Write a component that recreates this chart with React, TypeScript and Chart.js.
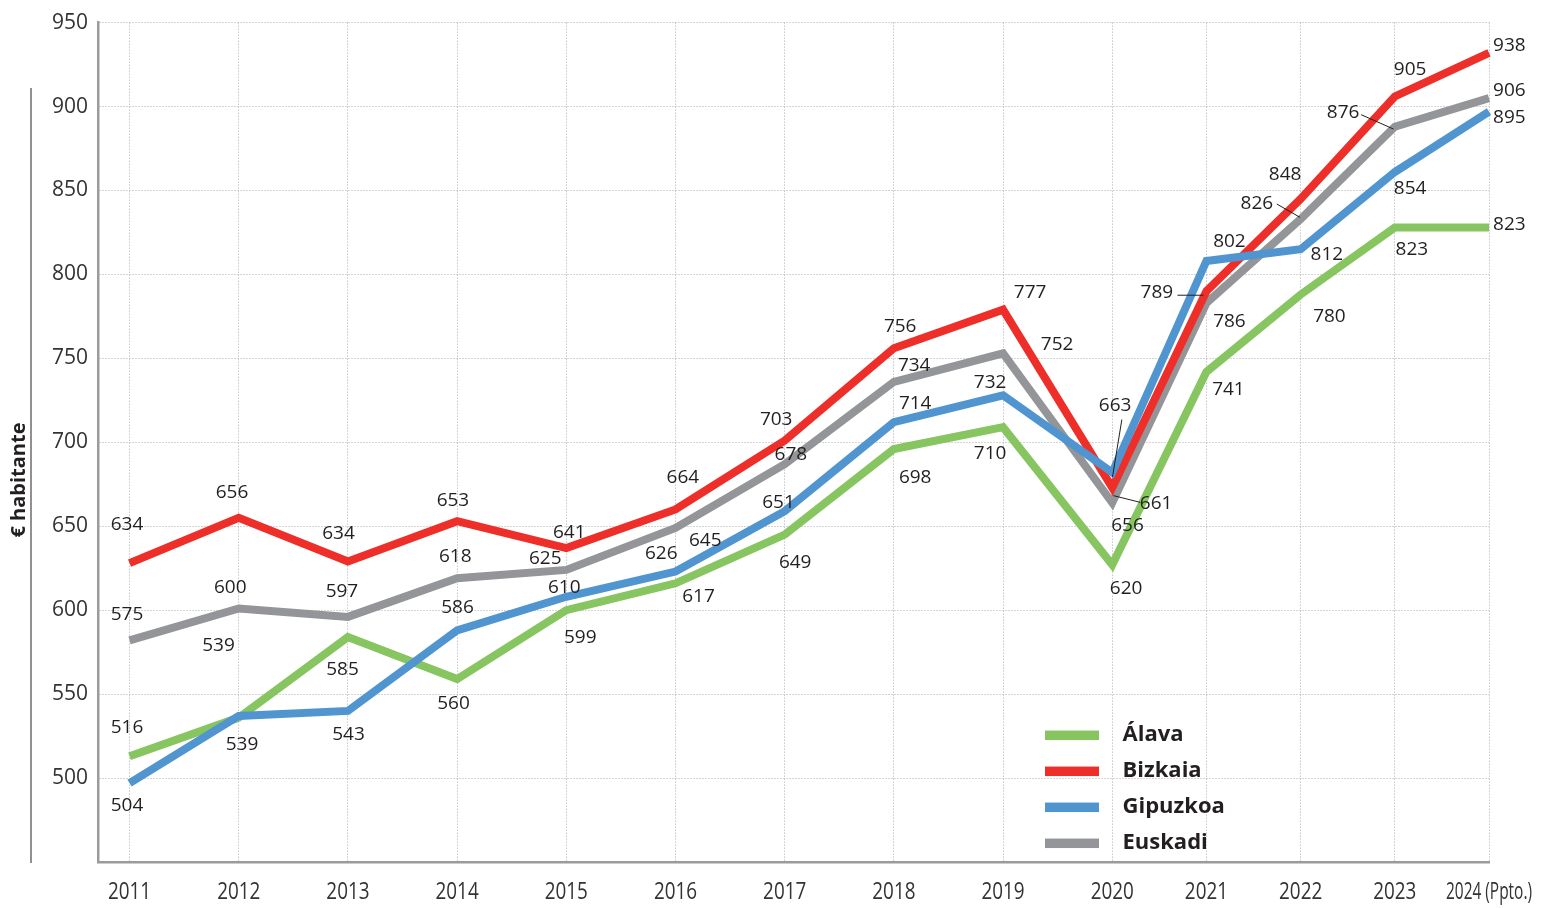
import React, { useEffect, useRef } from 'react';
import { Chart, registerables, CategoryScale } from 'chart.js';

Chart.register(...registerables);

// ---------- data ----------
const years = ['2011', '2012', '2013', '2014', '2015', '2016', '2017', '2018', '2019', '2020', '2021', '2022', '2023', '2024 (Ppto.)'];

// values as drawn by the lines
const alava = [513, 536, 584, 559, 600, 616, 645, 696, 709, 627, 742, 788, 828, 828];
const bizkaia = [628, 655, 629, 653, 637, 660, 701, 756, 779, 673, 790, 845, 906, 932];
const gipuzkoa = [497, 537, 540, 588, 608, 623, 659, 712, 728, 682, 808, 815, 861, 897];
const euskadi = [582, 601, 596, 619, 624, 649, 687, 736, 753, 664, 783, 833, 888, 905];

// printed value labels
const alavaLabels = [516, 539, 585, 560, 599, 617, 649, 698, 710, 620, 741, 780, 823, 823];
const bizkaiaLabels = [634, 656, 634, 653, 641, 664, 703, 756, 777, 661, 789, 848, 905, 938];
const gipuzkoaLabels = [504, 539, 543, 586, 610, 626, 651, 714, 732, 663, 802, 812, 854, 895];
const euskadiLabels = [575, 600, 597, 618, 625, 645, 678, 734, 752, 656, 786, 826, 876, 906];

const seriesNames = ['Álava', 'Bizkaia', 'Gipuzkoa', 'Euskadi'];
const yAxisTitle = '€ habitante';
const yMin = 450;
const yMax = 950;
const yStep = 50;

// ---------- layout / style (not data) ----------
const COLORS = ['#86C560', '#EE2E29', '#5095D0', '#939598'];
const DRAW_ORDER = [2, 1, 0, 3];

// label offsets in px from each point (dx, dy)
const alavaLabelOffsets = [[-2.6, -28.4], [-20.2, -72], [-5.4, 32.6], [-3.6, 24.7], [13.9, 27], [23, 13.3], [10.5, 28.3], [21.3, 29], [-12.9, 26.6], [13.9, 23.3], [22, 18], [28.8, 21.7], [17, 22.6], [20.4, -2.7]];
const bizkaiaLabelOffsets = [[-2.6, -38.3], [-6.8, -25.6], [-9.4, -28.3], [-4.2, -21], [2.9, -15], [7.4, -31.6], [-8.5, -20.7], [6.3, -22], [27.1, -17], [43.9, 15.7], [-49.6, 1.7], [-15.5, -24.3], [15.3, -26.7], [20.4, -7.7]];
const gipuzkoaLabelOffsets = [[-2.6, 22.7], [3.2, 29], [0.6, 23.3], [0.4, -22.4], [-2.1, -9.3], [-14.3, -17.7], [-6.2, -8.3], [21.3, -18.4], [-12.9, -13], [2.9, -67], [23, -19.3], [26.2, 5], [15.3, 16.6], [20.4, 5.6]];
const euskadiLabelOffsets = [[-2.6, -25.7], [-8.5, -21], [-6, -25.7], [-1.9, -21.3], [-21.1, -11.2], [29.7, 12.4], [6.2, -10], [20.3, -16.7], [54.1, -9], [15.2, 23], [23, 18.3], [-43.8, -15], [-51.7, -14], [20.4, -8]];

const LEADERS = [
  { series: 2, index: 9, from: [0.2, 4.7], to: [9.6, -53] },
  { series: 1, index: 9, from: [1.2, 8], to: [27.9, 14.7] },
  { series: 1, index: 10, from: [-3, 4], to: [-29, 4] },
  { series: 3, index: 11, from: [-0.5, -1.6], to: [-23.8, -15] },
  { series: 3, index: 12, from: [-1.4, 2.3], to: [-33.7, -12] },
];

// relative spacing between consecutive year columns
const X_GAPS = [1, 1, 1, 1, 1, 1, 1, 1, 1, 0.8626, 0.8626, 0.8626, 0.8626];
const X_START_PAD = 0.289;
const X_END_PAD = 0;

class SpacedCategoryScale extends CategoryScale {
  static id = 'spacedCategory';
  getPixelForValue(value: any) {
    let v = value;
    if (typeof v !== 'number') v = (this as any).parse(v);
    if (v === null || v === undefined || Number.isNaN(v)) return NaN;
    const stops = [X_START_PAD];
    for (const g of X_GAPS) stops.push(stops[stops.length - 1] + g);
    const total = stops[stops.length - 1] + X_END_PAD;
    const n = stops.length;
    const i = Math.max(0, Math.min(n - 2, Math.floor(v)));
    const pos = stops[i] + (stops[i + 1] - stops[i]) * (v - i);
    return (this as any).left + ((this as any).width * pos) / total;
  }
}
Chart.register(SpacedCategoryScale as any);

const TEXT_FONT = "'Open Sans', 'DejaVu Sans', sans-serif";

const annotationsPlugin = {
  id: 'annotations',
  afterDatasetsDraw(chart: any) {
    const ctx = chart.ctx;
    const xs = chart.scales.x;
    const ys = chart.scales.y;
    const values = [alava, bizkaia, gipuzkoa, euskadi];
    const labels = [alavaLabels, bizkaiaLabels, gipuzkoaLabels, euskadiLabels];
    const offsets = [alavaLabelOffsets, bizkaiaLabelOffsets, gipuzkoaLabelOffsets, euskadiLabelOffsets];
    ctx.save();
    // leader lines
    ctx.strokeStyle = '#231f20';
    ctx.lineWidth = 1;
    for (const l of LEADERS) {
      const px = xs.getPixelForValue(l.index);
      const py = ys.getPixelForValue(values[l.series][l.index]);
      ctx.beginPath();
      ctx.moveTo(px + l.from[0], py + l.from[1]);
      ctx.lineTo(px + l.to[0], py + l.to[1]);
      ctx.stroke();
    }
    // value labels
    ctx.fillStyle = '#231f20';
    ctx.font = `19px ${TEXT_FONT}`;
    ctx.textAlign = 'center';
    ctx.textBaseline = 'middle';
    for (let s = 0; s < 4; s++) {
      for (let i = 0; i < years.length; i++) {
        const px = xs.getPixelForValue(i);
        const py = ys.getPixelForValue(values[s][i]);
        const [dx, dy] = offsets[s][i];
        ctx.fillText(String(labels[s][i]), px + dx, py + dy);
      }
    }
    ctx.restore();
  },
  afterDraw(chart: any) {
    const ctx = chart.ctx;
    const xs = chart.scales.x;
    // condensed x-axis year labels
    ctx.save();
    ctx.fillStyle = '#333333';
    ctx.font = `23px ${TEXT_FONT}`;
    ctx.textAlign = 'center';
    ctx.textBaseline = 'middle';
    for (let i = 0; i < years.length; i++) {
      const px = xs.getPixelForValue(i);
      const w = ctx.measureText(years[i]).width;
      const sx = Math.min(0.82, 86 / w);
      ctx.save();
      ctx.translate(px, 892);
      ctx.scale(sx, 1);
      ctx.fillText(years[i], 0, 0);
      ctx.restore();
    }
    ctx.restore();

    ctx.save();
    // legend
    const swX = 1045;
    const swW = 54;
    const swH = 9.5;
    const startY = 735.3;
    const step = 36;
    ctx.font = `bold 22px ${TEXT_FONT}`;
    ctx.textAlign = 'left';
    ctx.textBaseline = 'alphabetic';
    for (let s = 0; s < seriesNames.length; s++) {
      const cy = startY + s * step;
      ctx.fillStyle = COLORS[s];
      ctx.fillRect(swX, cy - swH / 2, swW, swH);
      ctx.fillStyle = '#231f20';
      ctx.fillText(seriesNames[s], 1122.5, cy + 6);
    }
    // y axis title
    ctx.translate(25, 480);
    ctx.rotate(-Math.PI / 2);
    ctx.textAlign = 'center';
    ctx.font = `bold 20px ${TEXT_FONT}`;
    ctx.fillStyle = '#231f20';
    ctx.fillText(yAxisTitle, 0, 0);
    ctx.restore();
    // vertical rule left of the axis
    ctx.save();
    ctx.strokeStyle = '#555555';
    ctx.lineWidth = 1.3;
    ctx.beginPath();
    ctx.moveTo(31, 88);
    ctx.lineTo(31, 863);
    ctx.stroke();
    ctx.restore();
  },
};

export default function App() {
  const ref = useRef<HTMLCanvasElement | null>(null);
  useEffect(() => {
    document.body.style.margin = '0';
    const seriesValues = [alava, bizkaia, gipuzkoa, euskadi];
    const chart = new Chart(ref.current as HTMLCanvasElement, {
      type: 'line',
      data: {
        labels: years,
        datasets: seriesNames.map((name, s) => ({
          label: name,
          data: seriesValues[s],
          borderColor: COLORS[s],
          backgroundColor: COLORS[s],
          borderWidth: 8,
          pointRadius: 0,
          tension: 0,
          fill: false,
          borderJoinStyle: 'miter',
          borderCapStyle: 'butt',
          order: DRAW_ORDER[s],
        })) as any,
      },
      options: {
        responsive: false,
        animation: false,
        devicePixelRatio: 1,
        events: [],
        layout: { padding: { top: 22, right: 62, left: 0, bottom: 0 } },
        plugins: {
          legend: { display: false },
          tooltip: { enabled: false },
          title: { display: false },
        },
        scales: {
          x: {
            type: 'spacedCategory' as any,
            offset: false,
            grid: { color: '#ababab', lineWidth: 1, drawTicks: false },
            border: { display: true, color: '#9b9b9b', width: 2.5, dash: [1, 2] },
            ticks: { display: false, autoSkip: false, maxRotation: 0, minRotation: 0 },
            afterFit: (scale: any) => {
              scale.height = 46;
            },
          },
          y: {
            type: 'linear',
            min: yMin,
            max: yMax,
            ticks: {
              stepSize: yStep,
              padding: 10,
              color: '#333333',
              font: { family: TEXT_FONT, size: 21 },
              callback: (v: any) => (v === yMin ? '' : String(v)),
            },
            grid: { color: '#ababab', lineWidth: 1, drawTicks: false },
            border: { display: true, color: '#9b9b9b', width: 2.5, dash: [1, 2] },
            afterFit: (scale: any) => {
              scale.width = 98;
            },
          },
        },
      },
      plugins: [annotationsPlugin],
    } as any);
    return () => chart.destroy();
  }, []);
  return (
    <div style={{ width: 1551, height: 908 }}>
      <canvas ref={ref} width={1551} height={908} style={{ display: 'block', width: 1551, height: 908 }} />
    </div>
  );
}
